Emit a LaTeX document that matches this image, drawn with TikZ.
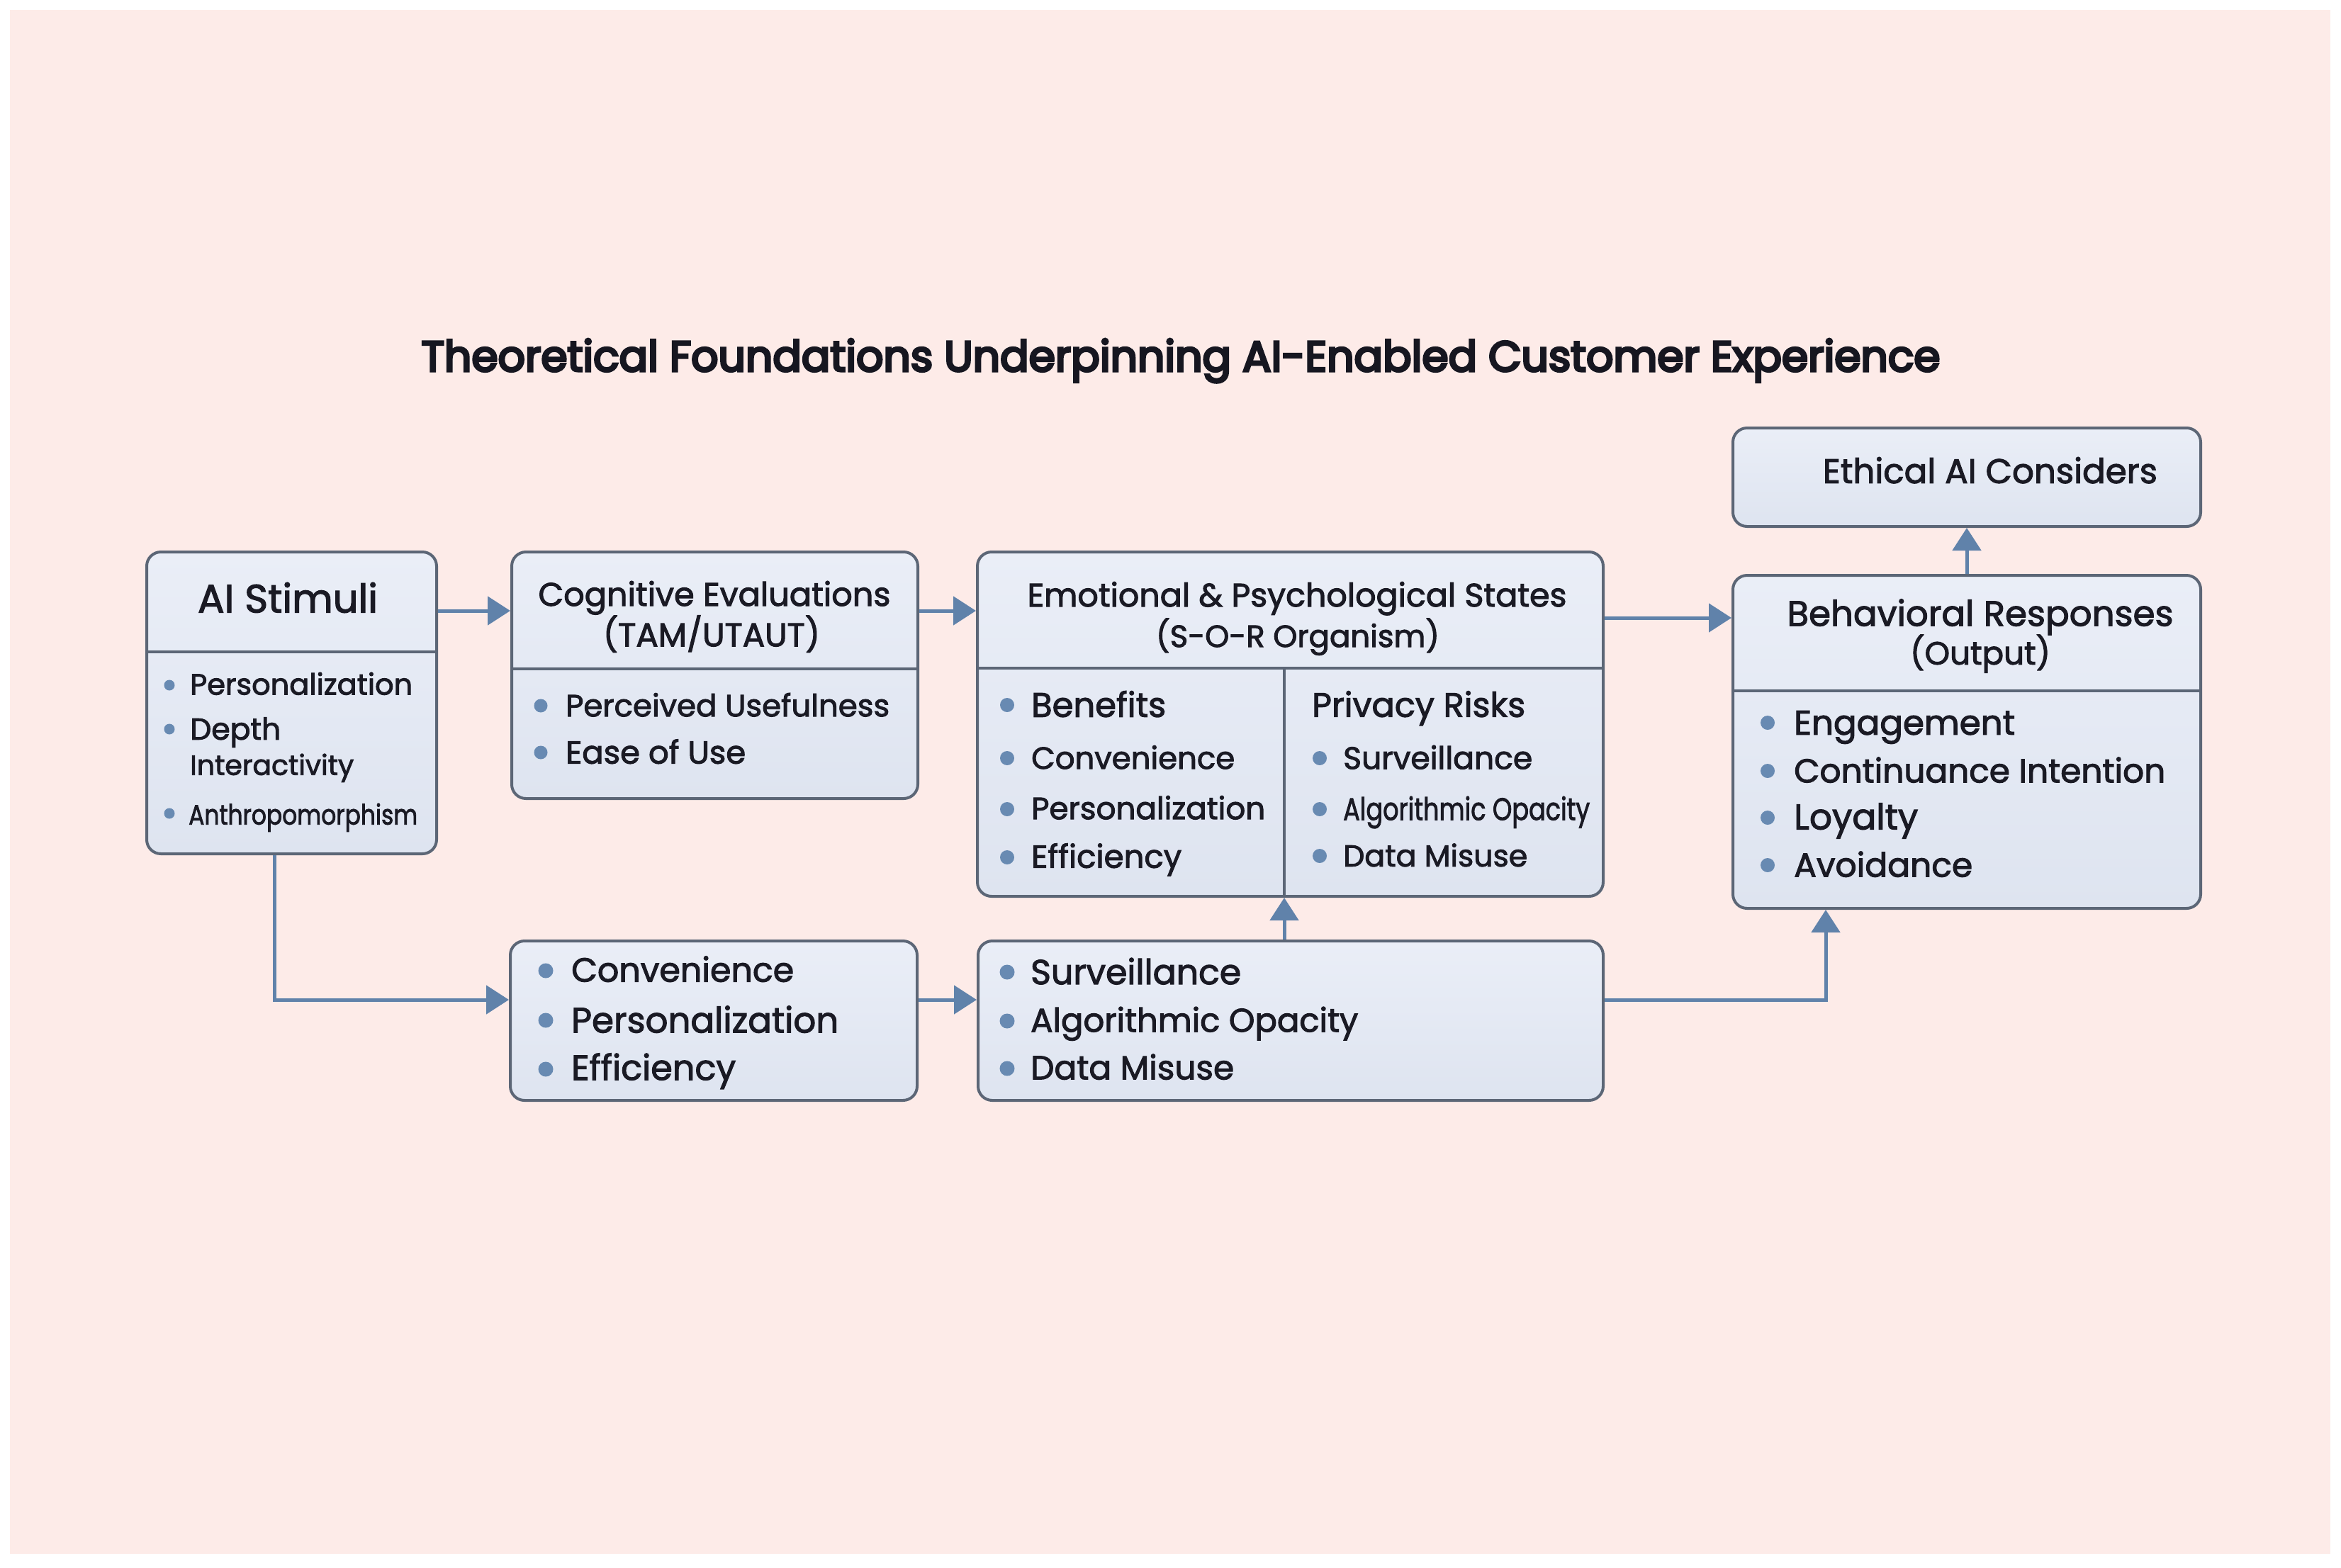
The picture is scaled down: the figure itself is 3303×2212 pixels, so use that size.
\documentclass[tikz,border=0pt]{standalone}
\usepackage{fontspec}
\setmainfont{Poppins}[FakeBold=2.2]
\newfontfamily\titlef{Poppins}[FakeBold=5.5]
\usepackage{graphicx}
\usetikzlibrary{arrows.meta}
\definecolor{bgpink}{RGB}{253,235,232}
\definecolor{boxtop}{RGB}{234,238,247}
\definecolor{boxbot}{RGB}{222,228,240}
\definecolor{boxline}{RGB}{92,102,118}
\definecolor{conncol}{RGB}{96,130,170}
\definecolor{bulcol}{RGB}{104,138,178}
\definecolor{txtcol}{RGB}{26,26,36}
\newbox\ftboxa \newbox\ftboxb
% fit text #3 to width #2 (px), font switch #1
\newcommand\FT[3][]{%
  \setbox\ftboxa=\hbox{\fontsize{10pt}{12pt}\selectfont#1#3}%
  \edef\ftw{\the\wd\ftboxa}%
  \pgfmathsetmacro\ftsz{(#2/\ftw)*10}%
  \global\let\lastsz\ftsz
  \setbox\ftboxa=\hbox{\fontsize{\ftsz pt}{\ftsz pt}\selectfont#1#3}%
  \setbox\ftboxb=\hbox{\fontsize{\ftsz pt}{\ftsz pt}\selectfont#1H}%
  \ht\ftboxa=\ht\ftboxb \dp\ftboxa=0pt
  \box\ftboxa}
% fixed size #2, squeezed horizontally to width #3
\newcommand\FSX[4][]{%
  \setbox\ftboxa=\hbox{\fontsize{#2pt}{#2pt}\selectfont#1#4}%
  \edef\ftw{\the\wd\ftboxa}%
  \pgfmathsetmacro\ftx{#3/\ftw}%
  \setbox\ftboxb=\hbox{\fontsize{#2pt}{#2pt}\selectfont#1H}%
  \ht\ftboxa=\ht\ftboxb \dp\ftboxa=0pt
  \scalebox{\ftx}[1]{\box\ftboxa}}
\begin{document}
\begin{tikzpicture}[x=1pt,y=-1pt,
  box/.style={draw=boxline, line width=4pt, rounded corners=20pt,
    top color=boxtop, bottom color=boxbot, inner sep=0pt, anchor=north west},
  divline/.style={draw=boxline, line width=3.5pt},
  conn/.style={draw=conncol, line width=5pt,
    -{Triangle[width=40pt,length=32pt]}},
  ctr/.style={inner sep=0pt, text=txtcol, anchor=center},
  itm/.style={inner sep=0pt, text=txtcol, anchor=west},
  bul/.style={fill=bulcol}]
\useasboundingbox (0,0) rectangle (3303,2212);
\fill[white] (0,0) rectangle (3303,2212);
\fill[bgpink] (14,14) rectangle (3288,2193);

% title
\node[ctr, text={rgb,255:red,22;green,22;blue,32}] (title) at (1666,503)
  {\FT[\titlef]{2143}{Theoretical Foundations Underpinning AI-Enabled Customer Experience}};

% boxes
\node[box, minimum width=409pt, minimum height=426pt] (ai) at (205,777) {};
\node[box, minimum width=573pt, minimum height=348pt] (cog) at (720,777) {};
\node[box, minimum width=883pt, minimum height=486pt] (emo) at (1377,777) {};
\node[box, minimum width=660pt, minimum height=139pt] (eth) at (2443,602) {};
\node[box, minimum width=660pt, minimum height=470pt] (beh) at (2443,810) {};
\node[box, minimum width=574pt, minimum height=225pt] (bl) at (718,1326) {};
\node[box, minimum width=882pt, minimum height=225pt] (bm) at (1378,1326) {};

% dividers
\coordinate (dai) at (0,920);
\coordinate (dcog) at (0,944);
\coordinate (demo) at (0,943);
\coordinate (dbeh) at (0,975);
\coordinate (xd) at (1812,0);
\draw[divline] (ai.west |- dai) -- (ai.east |- dai);
\draw[divline] (cog.west |- dcog) -- (cog.east |- dcog);
\draw[divline] (emo.west |- demo) -- (emo.east |- demo);
\draw[divline] (xd |- demo) -- (emo.south -| xd);
\draw[divline] (beh.west |- dbeh) -- (beh.east |- dbeh);

% AI Stimuli
\node[ctr] (aih) at (406,845) {\FT{254}{AI Stimuli}};
\fill[bul] (239,967) circle[radius=7.5];
\node[itm] (ai1) at (268,966) {\FT{314}{Personalization}};
\fill[bul] (239,1029) circle[radius=7.5];
\node[itm] (ai2) at (268,1029) {\FT{128}{Depth}};
\node[itm] (ai3) at (268,1080) {\FT{231}{Interactivity}};
\fill[bul] (239,1148) circle[radius=7.5];
\node[itm] (ai4) at (266,1150) {\FSX{\lastsz}{323}{Anthropomorphism}};

% Cognitive
\node[ctr] (cogh1) at (1008,839) {\FT{497}{Cognitive Evaluations}};
\node[ctr] (cogh2) at (1004,896) {\FT{306}{(TAM/UTAUT)}};
\fill[bul] (763,996) circle[radius=9.5];
\node[itm] (cog1) at (798,996) {\FT{457}{Perceived Usefulness}};
\fill[bul] (763,1062) circle[radius=9.5];
\node[itm] (cog2) at (798,1062) {\FT{254}{Ease of Use}};

% Emotional
\node[ctr] (emoh1) at (1830,840) {\FT{761}{Emotional \& Psychological States}};
\node[ctr] (emoh2) at (1831,898) {\FT{400}{(S-O-R Organism)}};
\fill[bul] (1421,995) circle[radius=10];
\node[itm] (emb0) at (1455,995) {\FT{190}{Benefits}};
\fill[bul] (1421,1070) circle[radius=10];
\node[itm] (emb1) at (1455,1070) {\FT{287}{Convenience}};
\fill[bul] (1421,1142) circle[radius=10];
\node[itm] (emb2) at (1455,1141) {\FT{330}{Personalization}};
\fill[bul] (1421,1210) circle[radius=10];
\node[itm] (emb3) at (1455,1209) {\FT{212}{Efficiency}};
\node[itm] (emr0) at (1851,995) {\FT{301}{Privacy Risks}};
\fill[bul] (1862,1070) circle[radius=10];
\node[itm] (emr1) at (1895,1070) {\FT{267}{Surveillance}};
\fill[bul] (1862,1142) circle[radius=10];
\node[itm] (emr2) at (1895,1142) {\FSX{\lastsz}{348}{Algorithmic Opacity}};
\fill[bul] (1862,1208) circle[radius=10];
\node[itm] (emr3) at (1895,1208) {\FT{260}{Data Misuse}};

% Ethical
\node[ctr] (ethh) at (2808,665) {\FT{472}{Ethical AI Considers}};

% Behavioral
\node[ctr] (behh1) at (2794,866) {\FT{545}{Behavioral Responses}};
\node[ctr] (behh2) at (2794,922) {\FT{198}{(Output)}};
\fill[bul] (2494,1020) circle[radius=10];
\node[itm] (beh1) at (2531,1020) {\FT{312}{Engagement}};
\fill[bul] (2494,1088) circle[radius=10];
\node[itm] (beh2) at (2531,1088) {\FT{524}{Continuance Intention}};
\fill[bul] (2494,1154) circle[radius=10];
\node[itm] (beh3) at (2531,1153) {\FT{175}{Loyalty}};
\fill[bul] (2494,1221) circle[radius=10];
\node[itm] (beh4) at (2531,1221) {\FT{252}{Avoidance}};

% bottom left
\fill[bul] (770,1370) circle[radius=10.5];
\node[itm] (bl1) at (806,1369) {\FT{314}{Convenience}};
\fill[bul] (770,1440) circle[radius=10.5];
\node[itm] (bl2) at (806,1440) {\FT{377}{Personalization}};
\fill[bul] (770,1509) circle[radius=10.5];
\node[itm] (bl3) at (806,1507) {\FT{232}{Efficiency}};

% bottom middle
\fill[bul] (1421,1372) circle[radius=10.5];
\node[itm] (bm1) at (1454,1372) {\FT{297}{Surveillance}};
\fill[bul] (1421,1441) circle[radius=10.5];
\node[itm] (bm2) at (1454,1440) {\FT{462}{Algorithmic Opacity}};
\fill[bul] (1421,1508) circle[radius=10.5];
\node[itm] (bm3) at (1454,1507) {\FT{287}{Data Misuse}};

% connectors
\coordinate (ya) at (0,862);
\coordinate (yb) at (0,872);
\coordinate (yc) at (0,1411);
\coordinate (xa) at (387,0);
\coordinate (xe) at (2576,0);
\draw[conn] (ai.east |- ya) -- (cog.west |- ya);
\draw[conn] (cog.east |- ya) -- (emo.west |- ya);
\draw[conn] (emo.east |- yb) -- (beh.west |- yb);
\draw[conn] (beh.north) -- (eth.south);
\draw[conn] (ai.south -| xa) |- (bl.west |- yc);
\draw[conn] (bl.east |- yc) -- (bm.west |- yc);
\draw[conn] (bm.north -| xd) -- (emo.south -| xd);
\draw[conn] (bm.east |- yc) -| (beh.south -| xe);
\end{tikzpicture}
\end{document}
